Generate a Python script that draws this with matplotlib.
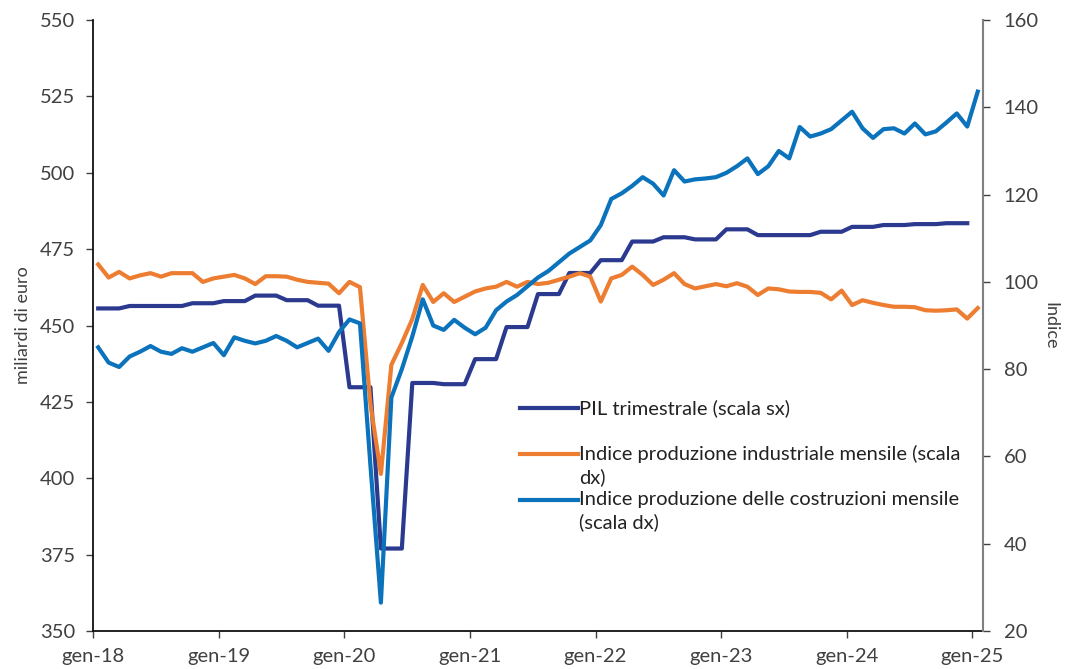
import numpy as np
import matplotlib
matplotlib.use("Agg")
import matplotlib.pyplot as plt
from matplotlib.lines import Line2D

plt.rcParams['font.family'] = ['Lato', 'DejaVu Sans']

# ---------------- data ----------------
tick_labels = ["gen-18", "gen-19", "gen-20", "gen-21", "gen-22", "gen-23", "gen-24", "gen-25"]

# PIL trimestrale (miliardi di euro), Q1 2018 - Q4 2024
pil_quarterly = [455.6, 456.4, 456.4, 457.3,
                 458.0, 459.8, 458.3, 456.5,
                 429.8, 377.0, 431.2, 430.8,
                 439.0, 449.5, 460.3, 467.2,
                 471.4, 477.5, 478.9, 478.2,
                 481.5, 479.6, 479.6, 480.7,
                 482.3, 482.9, 483.2, 483.5]

# Indice produzione industriale mensile, gen-18 - gen-25
ind_prod = [104.0, 101.0, 102.3, 100.8, 101.5, 102.0, 101.2, 102.0, 102.0, 102.0, 100.0, 100.8,
            101.2, 101.6, 100.8, 99.5, 101.3, 101.3, 101.2, 100.5, 100.0, 99.8, 99.6, 97.4,
            100.0, 98.8, 72.0, 56.0, 81.0, 86.0, 91.5, 99.3, 95.4, 97.4, 95.4, 96.6,
            97.8, 98.5, 98.9, 100.0, 98.9, 100.0, 99.5, 99.8, 100.5, 101.2, 102.0, 101.2,
            95.5, 100.8, 101.6, 103.5, 101.6, 99.3, 100.5, 102.0, 99.5, 98.5, 99.0, 99.5,
            99.0, 99.7, 98.9, 97.0, 98.5, 98.3, 97.8, 97.7, 97.7, 97.5, 96.0, 98.0,
            94.7, 95.8, 95.2, 94.7, 94.3, 94.3, 94.2, 93.5, 93.4, 93.5, 93.7, 91.6,
            94.0]

# Indice produzione delle costruzioni mensile, gen-18 - gen-25
costr_prod = [85.0, 81.5, 80.5, 82.9, 84.0, 85.3, 84.0, 83.5, 84.8, 84.0, 85.0, 86.0,
              83.2, 87.3, 86.5, 85.9, 86.5, 87.6, 86.5, 85.0, 86.0, 87.0, 84.2, 88.5,
              91.4, 90.5, 58.0, 26.5, 73.5, 80.0, 87.5, 96.0, 90.0, 89.0, 91.3, 89.5,
              88.0, 89.5, 93.5, 95.5, 97.0, 99.0, 101.0, 102.5, 104.5, 106.5, 108.0, 109.5,
              113.0, 119.0, 120.3, 122.0, 124.0, 122.5, 119.8, 125.6, 123.0, 123.5, 123.7, 124.0,
              125.0, 126.5, 128.3, 124.7, 126.5, 130.0, 128.3, 135.5, 133.3, 134.0, 135.0, 137.0,
              139.0, 135.2, 133.0, 135.0, 135.2, 134.0, 136.3, 133.8, 134.5, 136.5, 138.6, 135.6,
              143.6]

labels = ["PIL trimestrale (scala sx)",
          "Indice produzione industriale mensile (scala\ndx)",
          "Indice produzione delle costruzioni mensile\n(scala dx)"]

# ---------------- styling ----------------
c_pil = "#2B3A8F"
c_ind = "#ED7D31"
c_cos = "#0B72BC"
txt_col = "#404040"
fs = 14.5

fig = plt.figure(figsize=(10.66, 6.69), dpi=100)
ax = fig.add_axes([0.0872, 0.0568, 0.9221 - 0.0872, 0.970 - 0.0568])
ax2 = ax.twinx()

# monthly positions (centre of each month slot)
x_month = np.arange(len(ind_prod)) + 0.5
pil_monthly = np.repeat(pil_quarterly, 3)
x_pil = np.arange(len(pil_monthly)) + 0.5

ax.plot(x_pil, pil_monthly, color=c_pil, lw=3.0, solid_joinstyle='round')
ax2.plot(x_month, ind_prod, color=c_ind, lw=3.0, solid_joinstyle='round')
ax2.plot(x_month, costr_prod, color=c_cos, lw=3.0, solid_joinstyle='round')

ax.set_xlim(0, 85)
ax.set_ylim(350, 550)
ax2.set_ylim(20, 160)
ax.set_yticks(np.arange(350, 551, 25))
ax2.set_yticks(np.arange(20, 161, 20))
ax.set_xticks(np.arange(0, 85, 12))
ax.set_xticklabels(tick_labels)

for a in (ax, ax2):
    a.tick_params(labelsize=fs, colors=txt_col, direction='out', length=5, width=1)
    a.spines['top'].set_visible(False)
ax.tick_params(axis='x', pad=7)
ax.tick_params(axis='y', pad=8)
ax2.tick_params(axis='y', pad=10)
ax.spines['left'].set_color('#111111')
ax.spines['bottom'].set_color('#111111')
ax.spines['left'].set_linewidth(1.3)
ax.spines['bottom'].set_linewidth(1.3)
ax2.spines['left'].set_visible(False)
ax2.spines['bottom'].set_visible(False)
ax2.spines['right'].set_color('#808080')
ax2.spines['right'].set_linewidth(1.5)
ax.spines['right'].set_visible(False)

ax.set_ylabel("miliardi di euro", fontsize=13, color=txt_col, labelpad=6)
ax2.set_ylabel("Indice", fontsize=13, color=txt_col, rotation=270, labelpad=14)

# ---------------- custom legend (figure pixel layout) ----------------
W, H = 1066, 669
def fx(px):
    return px / W
def fy(py):
    return 1 - py / H

entries = [(c_pil, 408, labels[0]), (c_ind, 454, labels[1]), (c_cos, 500, labels[2])]
for col, ypx, lab in entries:
    fig.add_artist(Line2D([fx(520), fx(578)], [fy(ypx), fy(ypx)], color=col, lw=3.0,
                          transform=fig.transFigure))
    fig.text(fx(579), fy(ypx - 9), lab, fontsize=14.5, color="#222222", ha='left', va='top',
             linespacing=1.32, transform=fig.transFigure)

fig.savefig("out.png", dpi=100, facecolor='white')
